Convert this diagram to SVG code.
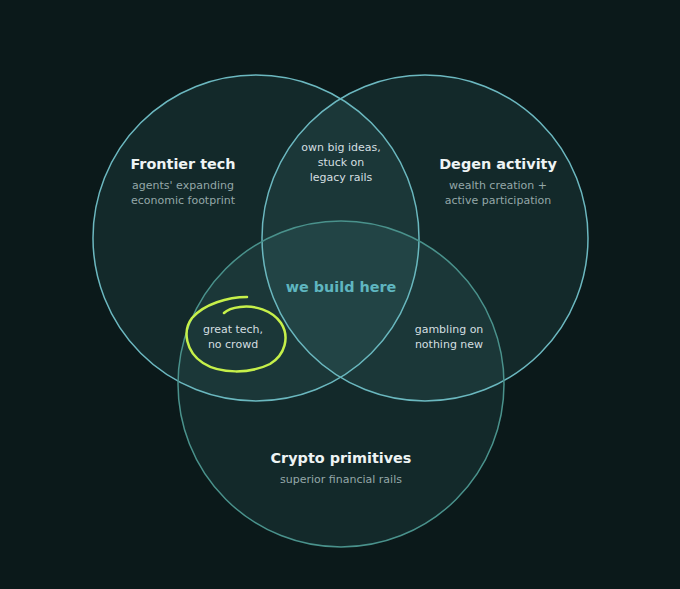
<svg xmlns="http://www.w3.org/2000/svg" width="680" height="589" viewBox="0 0 680 589">
<style>
.t{font-family:"DejaVu Sans","Noto Sans",sans-serif;text-anchor:middle}
.h{font-size:14.4px;font-weight:bold;fill:#eef4f4}
.s{font-size:11px;fill:#93a7a8}
.l{font-size:11px;fill:#d4dfe0}
.c{fill:#5fb8bc;fill-opacity:0.1;stroke-width:1.5}
</style>
<rect width="680" height="589" fill="#0b191a"/>
<g id="frontier">
<circle class="c" cx="256" cy="238" r="163" stroke="#6cb8c0"/>
<text class="t h" x="183" y="169">Frontier tech</text>
<text class="t s" x="183" y="189">agents' expanding</text>
<text class="t s" x="183" y="204">economic footprint</text>
</g>
<g id="degen">
<circle class="c" cx="425" cy="238" r="163" stroke="#6cb8c0"/>
<text class="t h" x="498" y="169">Degen activity</text>
<text class="t s" x="498" y="189">wealth creation +</text>
<text class="t s" x="498" y="204">active participation</text>
</g>
<g id="crypto">
<circle class="c" cx="341" cy="384" r="163" stroke="#4a928c"/>
<text class="t h" x="341" y="463">Crypto primitives</text>
<text class="t s" x="341" y="483">superior financial rails</text>
</g>
<g id="ideas">
<text class="t l" x="341" y="151">own big ideas,</text>
<text class="t l" x="341" y="166">stuck on</text>
<text class="t l" x="341" y="181">legacy rails</text>
</g>
<g id="center">
<text class="t" x="341" y="292" style="font-size:14.4px;font-weight:bold;fill:#5fb6c0">we build here</text>
</g>
<g id="gambling">
<text class="t l" x="449" y="333">gambling on</text>
<text class="t l" x="449" y="348">nothing new</text>
</g>
<g id="greattech">
<text class="t l" x="233" y="333">great tech,</text>
<text class="t l" x="233" y="348">no crowd</text>
<path d="M247,297 C228,297 204,304 192,318 C182,331 186,352 203,363 C220,374 250,374 270,364 C285,355 290,337 281,323 C272,310 254,305 240,307 C232,308 227,310 224,313" fill="none" stroke="#c6f04a" stroke-width="2.5" stroke-linecap="round"/>
</g>
<g id="connectors"></g>
</svg>
